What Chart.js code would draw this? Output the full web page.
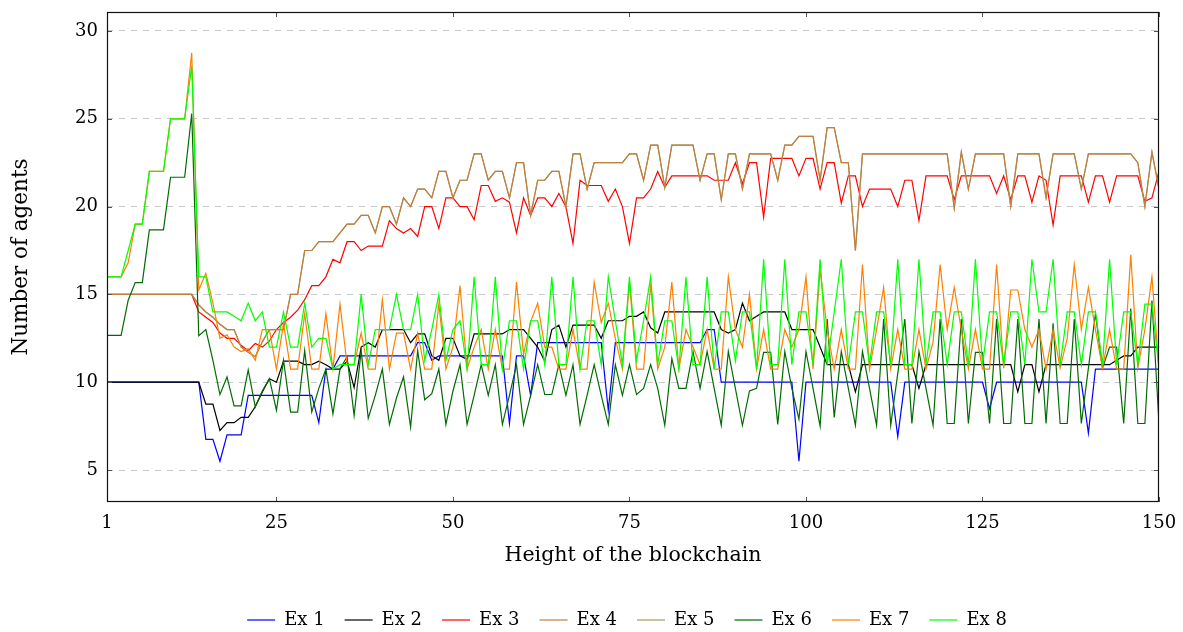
<!DOCTYPE html>
<html>
<head>
<meta charset="utf-8">
<script src="https://cdn.jsdelivr.net/npm/chart.js@4.4.0/dist/chart.umd.min.js"></script>
<style>
  html, body { margin: 0; padding: 0; background: #fff; }
  #wrap { width: 1183px; height: 632px; }
</style>
</head>
<body>
<div id="wrap"><canvas id="agents-chart" width="1183" height="632"></canvas></div>
<script>
// blockchain heights 1..150
const heights = Array.from({length: 150}, (_, i) => i + 1);
const xTicks = [1, 25, 50, 75, 100, 125, 150];
const yTicks = [5, 10, 15, 20, 25, 30];
const seriesNames = ['Ex 1', 'Ex 2', 'Ex 3', 'Ex 4', 'Ex 5', 'Ex 6', 'Ex 7', 'Ex 8'];

const ex1 = [
  10,10,10,10,10,10,10,10,10,10,
  10,10,10,10,6.75,6.75,5.5,7,7,7,
  9.25,9.25,9.25,9.25,9.25,9.25,9.25,9.25,9.25,9.25,
  7.7,10.75,10.75,11.5,11.5,11.5,11.5,11.5,11.5,11.5,
  11.5,11.5,11.5,11.5,12.25,12.25,11.25,11.5,11.5,11.5,
  11.5,11.5,11.5,11.5,11.5,11.5,11.5,7.65,11.5,11.5,
  9.25,12.25,12.25,12.25,12.25,12.25,12.25,12.25,12.25,12.25,
  12.25,8.4,12.25,12.25,12.25,12.25,12.25,12.25,12.25,12.25,
  12.25,12.25,12.25,12.25,12.25,13,13,10,10,10,
  10,10,10,10,10,10,10,10,5.5,10,
  10,10,10,10,10,10,10,10,10,10,
  10,10,6.9,10,10,10,10,10,10,10,
  10,10,10,10,10,8.5,10,10,10,10,
  10,10,10,10,10,10,10,10,10,7.1,
  10.75,10.75,10.75,10.75,10.75,10.75,10.75,10.75,10.75,10.75
];
const ex2 = [
  10,10,10,10,10,10,10,10,10,10,
  10,10,10,10,8.75,8.75,7.25,7.7,7.7,8.0,
  8.0,8.6,9.45,10.2,10.0,11.2,11.2,11.2,11.0,11.0,
  11.2,11.0,10.75,10.75,11.2,9.7,12.0,12.25,12.0,13,
  13,13,13,12.25,12.75,12.75,11.5,11.25,12.5,12.5,
  11.5,11.3,12.75,12.75,12.75,12.75,12.75,13,13,13,
  12.5,12.0,11.2,13.0,13.25,12.0,13.25,13.25,13.25,13.25,
  12.5,13.5,13.5,13.5,13.75,13.75,14.0,13.1,12.8,14,
  14,14,14,14,14,14,14,13,12.8,13,
  14.5,13.5,13.75,14,14,14,14,13,13,13,
  13,12,11,11,11,11,9.45,11,11,11,
  11,11,11,11,11,9.65,11,11,11,11,
  11,11,11,11,11,11,11,11,11,9.45,
  11,11,9.45,11,11,11,11,11,11,11,
  11,11,11,11.25,11.5,11.5,12,12,12,12
];
const ex3 = [
  15,15,15,15,15,15,15,15,15,15,
  15,15,15,14.0,13.7,13.4,12.8,12.5,12.5,12.1,
  11.8,12.2,12.0,12.35,13.0,13.4,13.7,14.1,14.7,15.5,
  15.5,16.0,17.0,16.8,18.0,18.0,17.5,17.75,17.75,17.75,
  19.2,18.75,18.5,18.75,18.3,20.0,20.0,18.75,20.5,20.5,
  20.0,20.0,19.25,21.2,21.2,20.3,20.5,20.25,18.5,20.5,
  19.5,20.5,20.5,20.0,20.75,20.0,17.9,21.5,21.2,21.2,
  21.2,20.3,21.0,20.0,17.9,20.5,20.5,21.0,22.0,21.1,
  21.75,21.75,21.75,21.75,21.75,21.75,21.5,21.5,21.5,22.5,
  21.3,22.5,22.5,19.4,22.75,22.75,22.75,22.75,21.75,22.75,
  22.75,21.0,22.5,22.5,20.2,21.75,21.75,20.0,21.0,21.0,
  21.0,21.0,20.0,21.5,21.5,19.2,21.75,21.75,21.75,21.75,
  20.4,21.75,21.75,21.75,21.75,21.75,20.75,21.75,20.4,21.75,
  21.75,20.25,21.75,21.5,18.95,21.75,21.75,21.75,21.75,20.25,
  21.75,21.75,20.25,21.75,21.75,21.75,21.75,20.3,20.5,22.0
];
const ex4 = [
  15,15,15,15,15,15,15,15,15,15,
  15,15,15,14.4,14.0,13.7,13.3,13.0,13.0,12.0,
  11.7,11.45,12.3,13.0,13.0,13.0,15.0,15.0,17.5,17.5,
  18,18,18,18.5,19,19,19.5,19.5,18.5,20,
  20,19,20.5,20,21,21,20.5,22,22,20.5,
  21.5,21.5,23,23,21.5,22,22,20.5,22.5,22.5,
  19.5,21.5,21.5,22,22,20,23,23,21,22.5,
  22.5,22.5,22.5,22.5,23,23,21.5,23.5,23.5,21.1,
  23.5,23.5,23.5,23.5,21.5,23,23,20.4,23,23,
  21,23,23,23,23,21.5,23.5,23.5,24,24,
  24,21.5,24.5,24.5,22.5,22.5,17.5,23,23,23,
  23,23,23,23,23,23,23,23,23,23,
  19.9,23.1,21,23,23,23,23,23,20,23,
  23,23,23,20.5,23,23,23,23,21,23,
  23,23,23,23,23,23,22.5,20,23.1,21
];
// Ex 5 runs under Ex 4 everywhere in the picture
const ex5 = [...ex4];
const ex6 = [
  12.67,12.67,12.67,14.67,15.67,15.67,18.67,18.67,18.67,21.67,
  21.67,21.67,25.3,12.65,13.0,11.25,9.3,10.3,8.65,8.65,
  10.7,8.6,9.5,10.2,8.4,11.25,8.3,8.3,11.8,8.3,
  9.65,10.75,8.2,10.75,11.45,8.1,11.8,7.95,9.25,10.75,
  7.6,9.1,10.3,7.45,11.8,9.0,9.35,10.75,7.6,9.5,
  11.0,7.6,9.25,11.0,9.25,11.0,7.6,9.25,11.0,7.6,
  9.25,11.0,9.3,9.3,11.0,9.25,11.0,7.6,9.25,11.0,
  9.25,7.6,11.0,9.25,11.0,9.3,9.65,11.0,9.65,7.55,
  11.35,9.65,9.65,11.75,9.65,11.75,9.65,7.55,11.75,9.65,
  7.55,9.5,9.65,11.7,11.7,7.6,11.75,9.65,7.9,11.75,
  9.65,7.5,13.6,8.0,11.75,9.65,7.55,11.75,9.65,7.55,
  13.6,7.55,10.5,13.6,7.65,11.75,9.65,7.55,13.6,7.65,
  7.65,13.6,7.65,11.7,11.7,7.65,13.6,7.65,7.65,13.6,
  7.65,7.65,13.6,7.65,13.35,7.65,7.65,13.6,7.65,10.8,
  13.9,10.8,12.0,12.0,7.65,14.2,7.65,7.65,14.65,7.65
];
const ex7 = [
  16,16,16,16.8,19,19,22,22,22,25,
  25,25,28.75,15.25,16.2,14.5,12.5,12.7,12.0,11.75,
  11.9,11.25,13.0,13.0,10.75,13.35,10.75,10.75,13.9,10.75,
  10.75,13.9,10.75,14.45,11.0,11.0,12.8,10.75,10.75,14.7,
  10.75,12.8,12.8,10.75,12.8,10.75,10.75,14.45,10.75,12.0,
  15.5,10.75,12.0,13.0,10.75,13.0,10.75,10.75,15.7,11.6,
  13.45,14.5,12.0,12.0,10.75,10.75,13.0,10.75,10.75,15.7,
  13.4,14.5,12.5,10.75,15.7,10.75,10.75,15.6,10.75,12.0,
  15.7,10.75,13.0,12.0,11.0,13.0,10.75,10.75,16.0,13.0,
  12.0,15.0,10.75,13.0,10.75,10.75,13.0,12.0,13.0,16.0,
  10.75,16.4,13.0,10.75,13.0,10.75,10.75,16.7,10.75,13.0,
  15.4,10.75,13.0,10.75,10.75,13.0,10.75,12.3,16.7,13.0,
  15.4,13.0,10.75,13.0,10.75,10.75,16.7,10.8,15.25,15.25,
  13.0,12.0,13.0,10.75,13.0,10.8,12.5,16.7,13.0,15.4,
  13.0,10.8,13.0,10.75,10.75,17.25,10.8,13.0,16.0,10.75
];
const ex8 = [
  16,16,16,17.5,19,19,22,22,22,25,
  25,25,28,16,16,14,14,14,13.75,13.5,
  14.5,13.5,14,12,12,14,12,12,14.5,12,
  12.5,12.5,10.75,11,11,11,15,11,13,13,
  13,15,13,13,15,11.25,13,15,11.25,13,
  13.5,10.75,16,11,11,16,10.75,13.5,13.5,10.75,
  13.5,13.5,11,16,11,11,16,10.75,13.5,13.5,
  11,16,13.5,11,16,11.25,13.5,16,11,13.5,
  13.5,10.75,16,11,11,16,10.75,14,14,11.2,
  14,14,10.75,17,11,11,17,11,14,14,
  11,17,11,14,17,11,14,14,11,14,
  14,11,17,11,11,17,11,14,14,11,
  14,14,11,17,11,14,14,11,14,14,
  11,17,14,14,17,11,14,14,11,14,
  14,11,17,11,14,14,11,14.45,14.45,10.75
];

const seriesValues = [ex1, ex2, ex3, ex4, ex5, ex6, ex7, ex8];
const seriesColors = ['#0000ff', '#000000', '#ff0000', '#bf8040', '#a09a5e', '#006b00', '#ff8000', '#00ff00'];
// pgfplots paints Ex 1 first and Ex 8 last; Ex 4 sits over Ex 5
const drawOrder = [8, 7, 6, 4, 5, 3, 2, 1];

const serif = "'DejaVu Serif', serif";

const framePlugin = {
    id: 'frame',
    afterLayout(chart) {
        // centre the legend under the plot, like the original
        const lg = chart.legend, a = chart.chartArea;
        lg.left = a.left - 6;
        lg.right = a.right - 6;
        lg.width = a.right - a.left;
        lg.top += 7;
        lg.bottom += 7;
    },
    afterDatasetsDraw(chart) {
        const {ctx, chartArea: a, scales: {x, y}} = chart;
        ctx.save();
        ctx.strokeStyle = '#555';
        ctx.lineWidth = 1;
        ctx.beginPath();
        xTicks.forEach(v => {
            const px = Math.round(x.getPixelForValue(v)) + 0.5;
            ctx.moveTo(px, a.bottom); ctx.lineTo(px, a.bottom - 5);
            ctx.moveTo(px, a.top); ctx.lineTo(px, a.top + 5);
        });
        yTicks.forEach(v => {
            const py = Math.round(y.getPixelForValue(v)) + 0.5;
            ctx.moveTo(a.left, py); ctx.lineTo(a.left + 5, py);
            ctx.moveTo(a.right, py); ctx.lineTo(a.right - 5, py);
        });
        ctx.stroke();
        ctx.strokeStyle = '#111';
        ctx.lineWidth = 1.2;
        ctx.strokeRect(Math.round(a.left) + 0.5, Math.round(a.top) + 0.5,
                       Math.round(a.width) - 1, Math.round(a.height) - 1);
        ctx.restore();
    }
};

const ctx = document.getElementById('agents-chart').getContext('2d');
const agentsChart = new Chart(ctx, {
    type: 'line',
    data: {
        datasets: seriesNames.map((name, i) => ({
            label: name,
            data: heights.map((h, k) => ({x: h, y: seriesValues[i][k]})),
            borderColor: seriesColors[i],
            backgroundColor: seriesColors[i],
            borderWidth: 1.2,
            pointRadius: 0,
            tension: 0,
            fill: false,
            order: drawOrder[i]
        }))
    },
    options: {
        responsive: false,
        animation: false,
        layout: { padding: { left: 0, right: 24, top: 12, bottom: 0 } },
        plugins: {
            tooltip: { enabled: false },
            legend: {
                position: 'bottom',
                labels: {
                    usePointStyle: true,
                    pointStyle: 'line',
                    pointStyleWidth: 28,
                    padding: 20,
                    color: '#000',
                    font: { family: serif, size: 18 },
                    sort: (a, b) => a.datasetIndex - b.datasetIndex
                }
            }
        },
        scales: {
            x: {
                type: 'linear',
                min: 1,
                max: 150,
                afterBuildTicks: s => { s.ticks = xTicks.map(v => ({value: v})); },
                afterFit: s => { s.height = 82; s.paddingLeft = 0; s.paddingRight = 0; },
                grid: { display: false },
                border: { display: false },
                ticks: { color: '#000', padding: 3, maxRotation: 0, font: { family: serif, size: 18 } },
                title: {
                    display: true,
                    text: 'Height of the blockchain',
                    color: '#000',
                    padding: { top: 0, bottom: 16 },
                    font: { family: serif, size: 20.5 }
                }
            },
            y: {
                type: 'linear',
                min: 3.18,
                max: 31.08,
                afterBuildTicks: s => { s.ticks = yTicks.map(v => ({value: v})); },
                afterFit: s => { s.width = 107; s.paddingTop = 0; s.paddingBottom = 0; },
                grid: { color: '#c8c8c8', lineWidth: 1, drawTicks: false },
                border: { display: false, dash: [6, 6] },
                ticks: { color: '#000', padding: 9, font: { family: serif, size: 18 } },
                title: {
                    display: true,
                    text: 'Number of agents',
                    color: '#000',
                    padding: { top: 9, bottom: 0 },
                    font: { family: serif, size: 21.5 }
                }
            }
        }
    },
    plugins: [framePlugin]
});
</script>
</body>
</html>
